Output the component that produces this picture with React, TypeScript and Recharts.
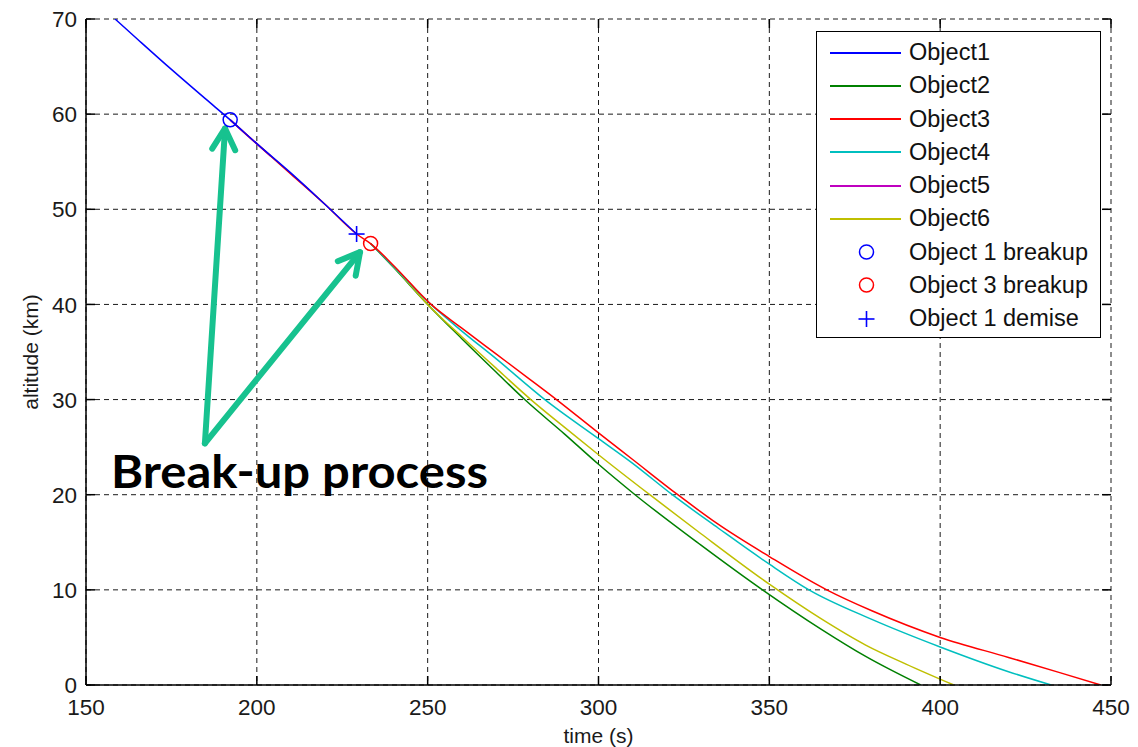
import React from "react";
import {
  ComposedChart,
  Line,
  Scatter,
  XAxis,
  YAxis,
  CartesianGrid,
  Legend,
  ReferenceLine,
  ReferenceDot,
  Label,
} from "recharts";

// ---- data (time in s, altitude in km) ----
const xTicks = [150, 200, 250, 300, 350, 400, 450];
const yTicks = [0, 10, 20, 30, 40, 50, 60, 70];

const object1Time = [158.5, 165, 175, 185, 192.2, 200, 210, 220, 229.2];
const object1Alt = [70, 67.9, 64.7, 61.6, 59.4, 56.9, 53.8, 50.5, 47.4];

const object2Time = [233.3, 240, 250, 260, 270, 278.4, 290, 300, 310.7, 330, 348, 365, 378.2, 394.3];
const object2Alt = [46.4, 43.9, 40.0, 36.4, 32.9, 30, 26.4, 23.2, 20, 14.7, 10, 5.9, 3.0, 0];

const object3Time = [192.2, 200, 210, 220, 229.2, 233.3, 240, 251, 260, 270, 280, 287.7, 300, 310, 323.2, 335, 350, 366.8, 380, 400, 420, 435, 447];
const object3Alt = [59.4, 56.9, 53.7, 50.5, 47.4, 46.4, 44.1, 40, 37.5, 34.8, 32.1, 30, 26.5, 23.7, 20, 16.9, 13.5, 10, 7.8, 5.0, 2.9, 1.3, 0];

const object4Time = [233.3, 240, 250, 260, 270, 284.3, 300, 310, 321.6, 335, 350, 361.6, 380, 400, 420, 432.5];
const object4Alt = [46.4, 44.0, 40.3, 37.2, 34.3, 30, 25.9, 23.3, 20, 16.5, 12.7, 10, 6.9, 4.0, 1.4, 0];

const object5Time = [192.2, 198, 204];
const object5Alt = [59.4, 57.5, 55.6];

const object6Time = [233.3, 240, 250, 260, 270, 280.2, 290, 300, 315, 330, 350, 365, 378.2, 390, 404];
const object6Alt = [46.4, 44.0, 40.0, 36.6, 33.3, 30, 27.1, 24.2, 20, 15.9, 10.6, 7.0, 4.2, 2.2, 0];

const seriesNames = ["Object1", "Object2", "Object3", "Object4", "Object5", "Object6"];
const seriesColors = ["#0000ff", "#008000", "#ff0000", "#00bfbf", "#bf00bf", "#bfbf00"];

const markerNames = ["Object 1 breakup", "Object 3 breakup", "Object 1 demise"];
const markerTimes = [192.2, 233.3, 229.2];
const markerAlts = [59.4, 46.4, 47.4];
const markerColors = ["#0000ff", "#ff0000", "#0000ff"];
const markerKinds = ["circle", "circle", "plus"];

// annotation
const annotationText = "Break-up process";
const annotationTime = 157.3;
const annotationAlt = 20.7;
const arrowTailTime = 184.8;
const arrowTailAlt = 25.4;
const arrowTipTimes = [190.7, 230.2];
const arrowTipAlts = [58.5, 45.5];

// ---- layout ----
const W = 1138;
const H = 747;
const PLOT_LEFT = 86;
const PLOT_TOP = 19;
const PLOT_RIGHT = 1111;
const PLOT_BOTTOM = 685;
const FONT = "'Liberation Sans', Arial, sans-serif";
const ARROW = "#17c28f";

const pts = (ts: number[], as: number[]) => ts.map((t, i) => ({ t, alt: as[i] }));
const series = [
  pts(object1Time, object1Alt),
  pts(object2Time, object2Alt),
  pts(object3Time, object3Alt),
  pts(object4Time, object4Alt),
  pts(object5Time, object5Alt),
  pts(object6Time, object6Alt),
];
// draw order: hidden magenta first, blue last
const drawOrder = [4, 1, 5, 3, 2, 0];

const XTick = (props: any) => {
  const { x, payload } = props;
  return (
    <g>
      <line x1={x} x2={x} y1={PLOT_BOTTOM} y2={PLOT_BOTTOM - 9} stroke="#000" strokeWidth={1.5} />
      <line x1={x} x2={x} y1={PLOT_TOP} y2={PLOT_TOP + 9} stroke="#000" strokeWidth={1.5} />
      <text x={x} y={PLOT_BOTTOM + 30} textAnchor="middle" fontFamily={FONT} fontSize={22.5} fill="#1a1a1a">
        {payload.value}
      </text>
    </g>
  );
};

const YTick = (props: any) => {
  const { y, payload } = props;
  return (
    <g>
      <line x1={PLOT_LEFT} x2={PLOT_LEFT + 9} y1={y} y2={y} stroke="#000" strokeWidth={1.5} />
      <line x1={PLOT_RIGHT - 9} x2={PLOT_RIGHT} y1={y} y2={y} stroke="#000" strokeWidth={1.5} />
      <text x={PLOT_LEFT - 9} y={y} dy="0.36em" textAnchor="end" fontFamily={FONT} fontSize={22.5} fill="#1a1a1a">
        {payload.value}
      </text>
    </g>
  );
};

const XTitle = (props: any) => {
  const vb = props.viewBox;
  return (
    <text x={vb.x + vb.width / 2} y={vb.y + 58} textAnchor="middle" fontFamily={FONT} fontSize={21} fill="#1a1a1a">
      time (s)
    </text>
  );
};

const YTitle = (props: any) => {
  const vb = props.viewBox;
  const cy = vb.y + vb.height / 2;
  return (
    <text
      x={30}
      y={cy}
      transform={`rotate(-90 30 ${cy})`}
      textAnchor="middle"
      dominantBaseline="central"
      fontFamily={FONT}
      fontSize={21}
      fill="#1a1a1a"
    >
      altitude (km)
    </text>
  );
};

const MarkerIcon = ({ kind, color, cx, cy }: any) =>
  kind === "plus" ? (
    <g stroke={color} strokeWidth={1.6}>
      <line x1={cx - 8} x2={cx + 8} y1={cy} y2={cy} />
      <line x1={cx} x2={cx} y1={cy - 8} y2={cy + 8} />
    </g>
  ) : (
    <circle cx={cx} cy={cy} r={7} stroke={color} strokeWidth={1.5} fill="none" />
  );

const LegendBox = () => (
  <div
    style={{
      width: 285,
      height: 307,
      boxSizing: "border-box",
      border: "1.5px solid #000",
      background: "#fff",
      paddingTop: 4,
      fontFamily: FONT,
      fontSize: 23.5,
      color: "#111",
    }}
  >
    {seriesNames.map((name, i) => (
      <div key={name} style={{ display: "flex", alignItems: "center", height: 33.25 }}>
        <svg width={92} height={20} style={{ flex: "none" }}>
          <line x1={13} x2={84} y1={10} y2={10} stroke={seriesColors[i]} strokeWidth={1.8} />
        </svg>
        <span>{name}</span>
      </div>
    ))}
    {markerNames.map((name, i) => (
      <div key={name} style={{ display: "flex", alignItems: "center", height: 33.25 }}>
        <svg width={92} height={20} style={{ flex: "none" }}>
          <MarkerIcon kind={markerKinds[i]} color={markerColors[i]} cx={49.5} cy={10} />
        </svg>
        <span>{name}</span>
      </div>
    ))}
  </div>
);

const Arrow = (p: any) => {
  const { x1, y1, x2, y2 } = p;
  const ang = Math.atan2(y2 - y1, x2 - x1);
  const len = 24;
  const spread = 0.5;
  const a1 = ang + Math.PI - spread;
  const a2 = ang + Math.PI + spread;
  return (
    <g stroke={ARROW} strokeWidth={6} strokeLinecap="round" strokeLinejoin="round" fill="none">
      <line x1={x1} y1={y1} x2={x2} y2={y2} />
      <polyline
        points={`${x2 + len * Math.cos(a1)},${y2 + len * Math.sin(a1)} ${x2},${y2} ${x2 + len * Math.cos(a2)},${y2 + len * Math.sin(a2)}`}
      />
    </g>
  );
};

const AnnotationText = (p: any) => (
  <text
    x={p.cx}
    y={p.cy}
    fontFamily="Lato, 'Open Sans', sans-serif"
    fontWeight={700}
    fontSize={46}
    textLength={377}
    lengthAdjust="spacingAndGlyphs"
    fill="#000"
  >
    {annotationText}
  </text>
);

export default function App() {
  return (
    <div style={{ position: "absolute", left: 0, top: 0, width: W, height: H, background: "#fff" }}>
      <ComposedChart
        width={W}
        height={H}
        margin={{ top: PLOT_TOP, right: W - PLOT_RIGHT, left: PLOT_LEFT - 50, bottom: H - PLOT_BOTTOM - 50 }}
      >
        <CartesianGrid stroke="#1a1a1a" strokeDasharray="5 4" strokeWidth={1} />
        <XAxis
          type="number"
          dataKey="t"
          domain={[150, 450]}
          ticks={xTicks}
          interval={0}
          allowDataOverflow
          height={50}
          tickLine={false}
          axisLine={{ stroke: "#000", strokeWidth: 1.5 }}
          tick={XTick}
        >
          <Label content={XTitle} />
        </XAxis>
        <YAxis
          type="number"
          dataKey="alt"
          domain={[0, 70]}
          ticks={yTicks}
          interval={0}
          allowDataOverflow
          width={50}
          tickLine={false}
          axisLine={{ stroke: "#000", strokeWidth: 1.5 }}
          tick={YTick}
        >
          <Label content={YTitle} />
        </YAxis>
        <Legend
          layout="vertical"
          align="center"
          verticalAlign="middle"
          wrapperStyle={{ left: 816, top: 31, width: 285, height: 307 }}
          content={LegendBox}
        />
        {drawOrder.map((i) => (
          <Line
            key={seriesNames[i]}
            data={series[i]}
            dataKey="alt"
            name={seriesNames[i]}
            stroke={seriesColors[i]}
            strokeWidth={1.5}
            dot={false}
            activeDot={false}
            type="monotone"
            isAnimationActive={false}
          />
        ))}
        {markerNames.map((name, i) => (
          <Scatter
            key={name}
            name={name}
            data={[{ t: markerTimes[i], alt: markerAlts[i] }]}
            dataKey="alt"
            isAnimationActive={false}
            shape={(p: any) => <MarkerIcon kind={markerKinds[i]} color={markerColors[i]} cx={p.cx} cy={p.cy} />}
          />
        ))}
        {arrowTipTimes.map((tt, i) => (
          <ReferenceLine
            key={`arrow-${i}`}
            segment={[
              { x: arrowTailTime, y: arrowTailAlt },
              { x: tt, y: arrowTipAlts[i] },
            ]}
            shape={Arrow}
          />
        ))}
        <ReferenceDot x={annotationTime} y={annotationAlt} r={0} shape={AnnotationText} />
      </ComposedChart>
    </div>
  );
}
